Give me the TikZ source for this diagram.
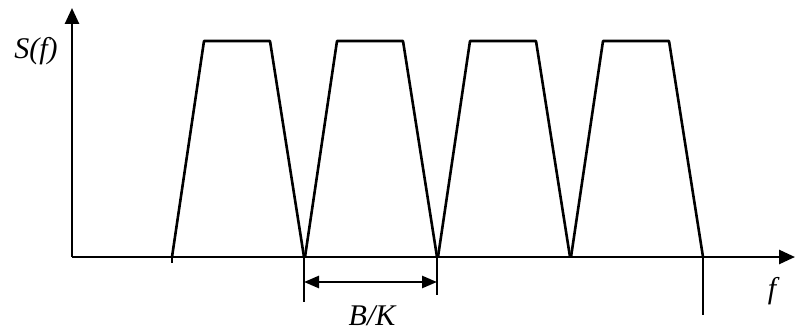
\documentclass[tikz,border=0pt]{standalone}
\usepackage{fontspec}
\setmainfont{Liberation Serif}
\usetikzlibrary{arrows.meta}

\begin{document}
\begin{tikzpicture}[
  x=0.5pt, y=-0.5pt,
  line width=1.3pt, line join=round,
  axis/.style={-{Triangle[length=8pt, width=7pt]}},
  dim/.style={{Triangle[length=7.5pt, width=6pt]}-{Triangle[length=7.5pt, width=6pt]}},
  lbl/.style={font=\fontsize{15}{17}\selectfont\itshape, inner sep=0pt},
]
\useasboundingbox (0,0) rectangle (795,331);
\coordinate (origin) at (72,257);
\coordinate (xend) at (795,257);
\coordinate (yend) at (72,8);
\draw[axis] (origin) -- (xend);
\draw[axis] (origin) -- (yend);

% spectrum bands
\foreach \k in {0,...,3}{
  \draw ({172+133*\k},257) -- ({204+133*\k},41) -- ({270+133*\k},41) -- ({304+133*\k},257);
}

% ticks below the axis
\coordinate (t0) at (172,257);
\coordinate (t0b) at (172,263);
\coordinate (t1) at (304,257);
\coordinate (t1b) at (304,302);
\coordinate (t2) at (437,257);
\coordinate (t2b) at (437,295);
\coordinate (t4) at (703,257);
\coordinate (t4b) at (703,315);
\draw (t0) -- (t0b);
\draw (t1) -- (t1b);
\draw (t2) -- (t2b);
\draw (t4) -- (t4b);

% band spacing
\coordinate (dl) at (304,282);
\coordinate (dr) at (437,282);
\draw[dim] (dl) -- (dr);

\node[lbl] (bk) at (372,316) {B/K};
\node[lbl] (flabel) at (772,291) {f};
\node[lbl] (slabel) at (36,51) {S(f)};
\end{tikzpicture}
\end{document}
